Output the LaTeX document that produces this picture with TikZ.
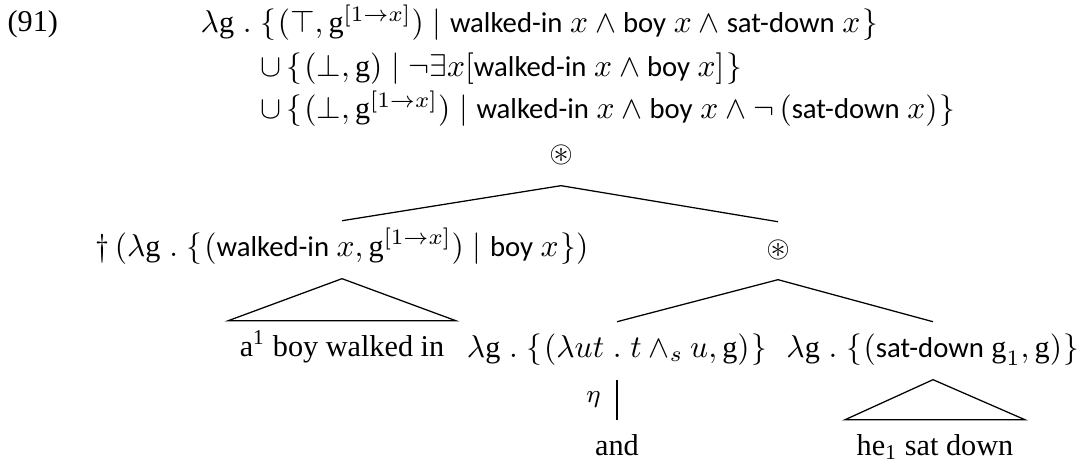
\documentclass[tikz,border=0pt]{standalone}
\usepackage{amsmath,amssymb}
\usepackage{fontspec}
\setmainfont{Liberation Serif}
\setsansfont[Scale=0.95]{Carlito}

\newcommand{\gx}{\textrm{g}}
\newcommand{\pred}[1]{\textsf{#1}}

\begin{document}
\begin{tikzpicture}[x=0.3175pt, y=-0.3175pt, font=\fontsize{9.6}{11.5}\selectfont,
  tnode/.style={anchor=base, inner xsep=0pt, inner ysep=4pt, text height=7pt, text depth=3pt},
  leaf/.style={tnode, inner xsep=3.5pt},
  branch/.style={line width=0.4pt}]

  %% ════ 例句编号与整句语义（三行）════
  \node[anchor=base west, inner sep=0pt] (exnum) at (7,32) {(91)};
  \node[anchor=base west, inner sep=0pt] (sem1) at (200,33)
    {$\lambda\gx\;.\;\{\mkern1mu(\top,\gx^{[1\rightarrow x]})\mid\pred{walked-in}\ x\wedge\pred{boy}\ x\wedge\pred{sat-down}\ x\mkern1mu\}$};
  \node[anchor=base west, inner sep=0pt] (sem2) at (260,77)
    {$\cup\,\{\mkern1mu(\bot,\gx)\mid\neg\exists x[\pred{walked-in}\ x\wedge\pred{boy}\ x]\mkern1mu\}$};
  \node[anchor=base west, inner sep=0pt] (sem3) at (260,119)
    {$\cup\,\{\mkern1mu(\bot,\gx^{[1\rightarrow x]})\mid\pred{walked-in}\ x\wedge\pred{boy}\ x\wedge\neg\,(\pred{sat-down}\ x)\mkern1mu\}$};

  %% ════ 树节点 ════
  \node[tnode] (root) at (561,163) {$\circledast$};
  \node[tnode] (dag) at (342,256)
    {$\dagger\,(\lambda\gx\;.\;\{\mkern1mu(\pred{walked-in}\ x,\gx^{[1\rightarrow x]})\mid\pred{boy}\ x\mkern1mu\})$};
  \node[tnode] (rstar) at (778,257) {$\circledast$};
  \node[leaf] (boyleaf) at (342,356) {a\textsuperscript{1} boy walked in};
  \node[tnode] (conj) at (617,357) {$\lambda\gx\;.\;\{\mkern1mu(\lambda ut\;.\;t\wedge_s u,\gx)\mkern1mu\}$};
  \node[tnode] (sat) at (933,357) {$\lambda\gx\;.\;\{\mkern1mu(\pred{sat-down}\ \gx_1,\gx)\mkern1mu\}$};
  \node[tnode] (andleaf) at (617,455) {and};
  \node[leaf] (heleaf) at (935,455) {he\textsubscript{1} sat down};

  %% ════ 树枝与三角形 ════
  \draw[branch] (root.south) -- (dag.north);
  \draw[branch] (root.south) -- (rstar.north);
  \draw[branch] (rstar.south) -- (conj.north);
  \draw[branch] (rstar.south) -- (sat.north);
  \draw[branch] (dag.south) -- (boyleaf.north west) -- (boyleaf.north east) -- cycle;
  \draw[branch] (sat.south) -- (heleaf.north west) -- (heleaf.north east) -- cycle;
  \draw[branch] (conj.south) -- (andleaf.north)
    node[midway, left, inner sep=5pt, font=\fontsize{7.7}{9}\selectfont] (etalab) {$\eta$};

  % 钉死画布
  \pgfresetboundingbox
  \path[use as bounding box] (0,0) rectangle (1080,464);
\end{tikzpicture}
\end{document}
